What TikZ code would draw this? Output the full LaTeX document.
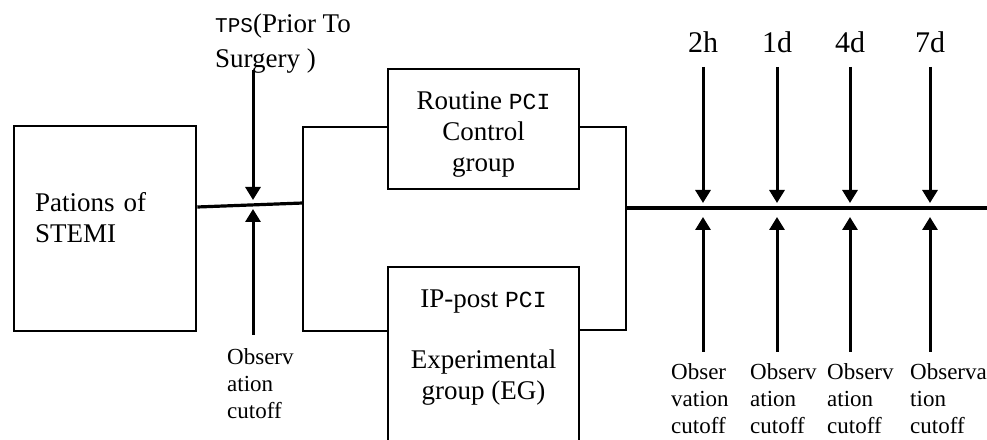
\documentclass[tikz,border=0pt]{standalone}
\usepackage{fontspec}
\setmainfont{Liberation Serif}
\newfontfamily\simfont{Liberation Mono}
\usetikzlibrary{arrows.meta}
\tikzstyle{block} = [rectangle, draw, line width=2.6pt, inner sep=0pt,
                 font=\fontsize{27}{31}\selectfont]
\tikzstyle{branch} = [line width=1.7pt, draw]
\tikzstyle{pointer} = [line width=3pt, draw, -{Triangle[length=13pt,width=15pt]}]
\tikzstyle{note} = [align=left, anchor=west, inner sep=0pt,
                 font=\fontsize{23}{27}\selectfont]

\begin{document}
\begin{tikzpicture}[x=1pt,y=1pt]
\useasboundingbox (0,0) rectangle (987,439);

% patients and the two groups
\node [block, minimum width=182pt, minimum height=205pt, text width=140pt, align=left] at (105,210.5) (stemi) {Pations of\\STEMI\\[-8pt]\mbox{}};
\node [block, minimum width=191pt, minimum height=120pt, align=center] at (483.5,310) (ctrl) {\rule{0pt}{29pt}Routine {\simfont\fontsize{23}{31}\selectfont PCI}\\Control\\group};
\node [block, minimum width=191pt, minimum height=192pt, align=center] at (483.5,76) (eg) {IP-post {\simfont\fontsize{23}{31}\selectfont PCI}\\[30pt]Experimental\\group (EG)\\[6pt]\mbox{}};

% split before, join after
\coordinate (sx) at (stemi.east |- 0,232);
\coordinate (lm) at (303,236);
\coordinate (lt) at (303,312);
\coordinate (lb) at (303,108);
\coordinate (rt) at (626,312);
\coordinate (rb) at (626,109);
\coordinate (tl) at (626,231);
\coordinate (tr) at (987,231);
\path [draw, line width=3.2pt] (sx) -- (lm);
\path [branch] (ctrl.west |- lt) -- (lt) -- (lb) -- (eg.west |- lb);
\path [branch] (ctrl.east |- rt) -- (rt) -- (rb) -- (eg.east |- rb);
\path [draw, line width=3.6pt] (tl) -- (tr);

% prior to surgery
\node [anchor=west, align=left, inner sep=0pt, font=\fontsize{27}{35}\selectfont] at (215,395) (tps) {{\simfont\fontsize{21}{35}\selectfont TPS}(Prior To\\Surgery )};
\node [note] at (227,55) (obs0) {Observ\\ation\\cutoff};
\coordinate (tpsdown) at (253,369);
\coordinate (tpshit) at (253,239);
\coordinate (obsup) at (253,230);
\coordinate (obsfoot) at (253,104);
\draw [pointer] (tpsdown) -- (tpshit);
\draw [pointer] (obsfoot) -- (obsup);

% time points
\foreach \x/\lx/\t/\obs in {703/671/2h/{Obser\\vation\\cutoff}, 777/750/1d/{Observ\\ation\\cutoff},
                            850/827/4d/{Observ\\ation\\cutoff}, 930/910/7d/{Observa\\tion\\cutoff}}
{
	\node [font=\fontsize{30}{34}\selectfont] at (\x,397) (time\t) {\t};
	\node [note] at (\lx,40) (obs\t) {\obs};
	\coordinate (down\t) at (\x,372);
	\coordinate (hit\t) at (\x,236);
	\coordinate (up\t) at (\x,222);
	\coordinate (foot\t) at (\x,87);
	\draw [pointer] (down\t) -- (hit\t);
	\draw [pointer] (foot\t) -- (up\t);
}

\end{tikzpicture}
\end{document}
